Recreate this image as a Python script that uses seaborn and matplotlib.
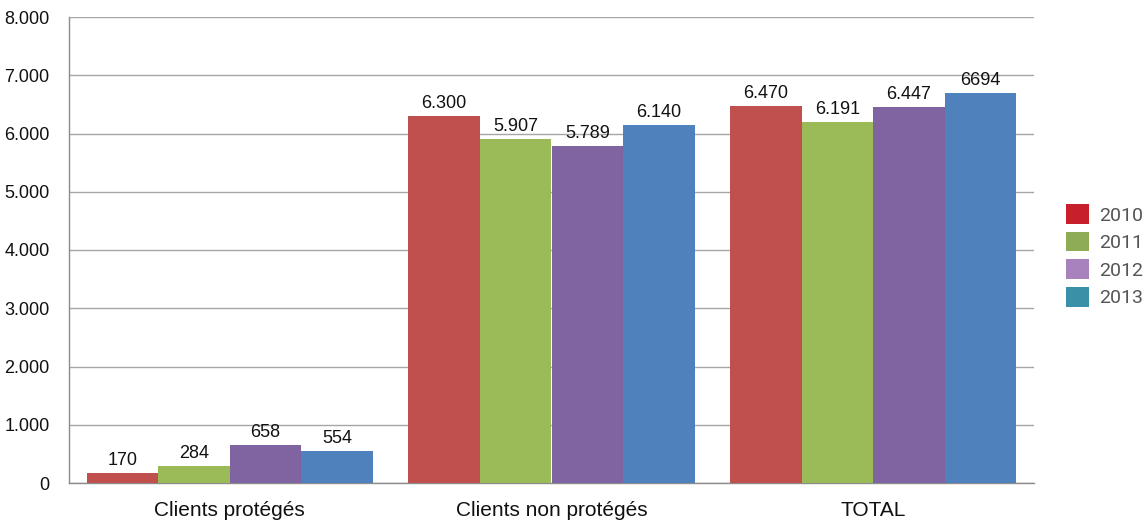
import matplotlib
matplotlib.use("Agg")
import matplotlib.pyplot as plt
from matplotlib.patches import Patch
from matplotlib.ticker import FuncFormatter
import seaborn as sns
import pandas as pd

categories = ["Clients protégés", "Clients non protégés", "TOTAL"]
years = ["2010", "2011", "2012", "2013"]
values_2010 = [170, 6300, 6470]
values_2011 = [284, 5907, 6191]
values_2012 = [658, 5789, 6447]
values_2013 = [554, 6140, 6694]
labels_2010 = ["170", "6.300", "6.470"]
labels_2011 = ["284", "5.907", "6.191"]
labels_2012 = ["658", "5.789", "6.447"]
labels_2013 = ["554", "6.140", "6694"]

bar_colors = ["#c0504d", "#9bbb59", "#8064a2", "#4f81bd"]
legend_colors = ["#c8202a", "#8eab56", "#a782bd", "#3a90a6"]

rows = []
for yr, vals in zip(years, [values_2010, values_2011, values_2012, values_2013]):
    for cat, v in zip(categories, vals):
        rows.append({"categorie": cat, "annee": yr, "valeur": v})
df = pd.DataFrame(rows)

sns.set_theme(style="white")
plt.rcParams["font.family"] = ["Liberation Sans", "DejaVu Sans"]

fig = plt.figure(figsize=(11.47, 5.22), dpi=100)
ax = fig.add_axes([69 / 1147, 1 - 483 / 522, (1034 - 69) / 1147, (483 - 17) / 522])

sns.barplot(data=df, x="categorie", y="valeur", hue="annee", order=categories,
            hue_order=years, palette=bar_colors, width=0.89, saturation=1,
            edgecolor="none", ax=ax, legend=False, zorder=3)

all_labels = [labels_2010, labels_2011, labels_2012, labels_2013]
for container, labs in zip(ax.containers, all_labels):
    ax.bar_label(container, labels=labs, padding=3, fontsize=13, color="#111111")

ax.set_ylim(0, 8000)
ax.set_yticks(range(0, 8001, 1000))
ax.yaxis.set_major_formatter(FuncFormatter(lambda v, p: f"{int(v):,}".replace(",", ".")))
ax.grid(axis="y", color="#a6a6a6", linewidth=1, zorder=0)
ax.set_xlabel("")
ax.set_ylabel("")
ax.tick_params(axis="y", length=0, pad=14, labelsize=13, labelcolor="#111111")
ax.tick_params(axis="x", length=0, pad=13, labelsize=15, labelcolor="#111111")
for s in ["top", "right"]:
    ax.spines[s].set_visible(False)
for s in ["left", "bottom"]:
    ax.spines[s].set_color("#8c8c8c")
    ax.spines[s].set_linewidth(1)

handles = [Patch(facecolor=c, edgecolor="none") for c in legend_colors]
leg = fig.legend(handles, years, loc="upper left", bbox_to_anchor=(1066 / 1147, 1 - 204 / 522),
                 frameon=False, prop={"family": "Roboto", "size": 14},
                 borderpad=0, borderaxespad=0,
                 handlelength=1.2, handleheight=1.2, handletextpad=0.5, labelspacing=0.36)
for t in leg.get_texts():
    t.set_color("#555555")

fig.savefig("out.png", dpi=100)
